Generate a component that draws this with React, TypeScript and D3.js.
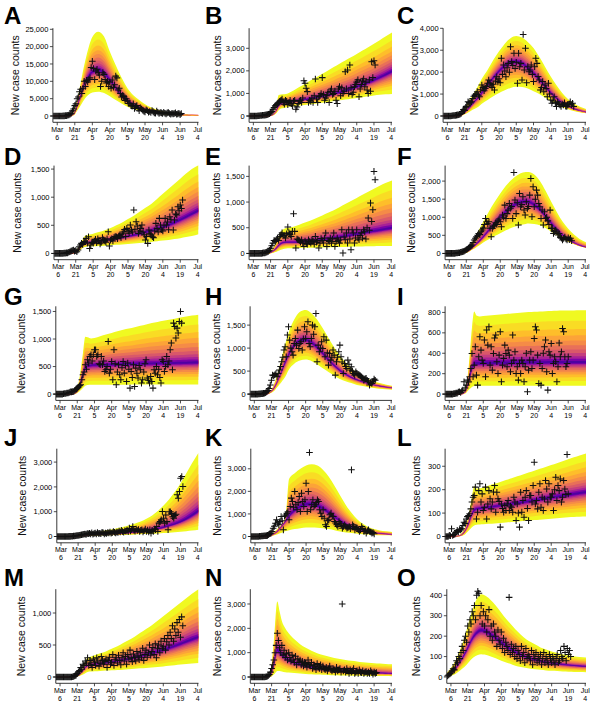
import React from 'react';
import * as d3 from 'd3';

// ---------- shared axis data ----------
const X_TICK_DAYS = [0, 15, 30, 45, 60, 75, 90, 105, 120];
const X_TICK_MONTHS = ['Mar', 'Mar', 'Apr', 'Apr', 'May', 'May', 'Jun', 'Jun', 'Jul'];
const X_TICK_DAYNUMS = ['6', '21', '5', '20', '5', '20', '4', '19', '4'];
const MODEL_DAYS = [-3.7, 4, 10, 14, 17, 20, 22, 24, 27, 30, 35, 40, 45, 50, 55, 60, 65, 70, 75, 80, 85, 90, 95, 100, 105, 110, 115, 120.7];
const POINT_START_DAY = -3;
const PANEL_IDS = ['A', 'B', 'C', 'D', 'E', 'F', 'G', 'H', 'I', 'J', 'K', 'L', 'M', 'N', 'O'];

// ---------- A ----------
const A_HI = [0,0,0,1000,4500,9500,13000,16000,20000,22800,24300,22900,18500,14600,11000,8000,6000,4600,3400,2500,1900,1400,1050,800,600,420,300,220];
const A_MED = [0,0,0,500,2800,6000,8000,9800,11500,12700,13200,12300,10300,8000,6000,4400,3300,2500,1900,1450,1100,850,650,500,380,290,220,170];
const A_LO = [0,0,0,200,1500,3000,4200,5200,6200,6800,7000,6600,5700,4600,3600,2700,2000,1500,1150,880,680,520,400,300,230,170,130,100];
const A_PTS = [0,0,0,
  0,0,0,0,0,50,50,100,100,200,
  300,500,800,1500,2000,3000,3500,5000,5500,7000,
  7700,6500,8000,10000,8500,10300,9800,10500,11000,14000,
  15800,13700,10500,13000,13500,12500,11800,8500,10000,12500,
  12000,10500,9500,10000,8500,9800,8000,10400,8300,9000,
  11500,11000,7500,8000,6500,5500,6000,5600,4500,5000,
  4300,3600,3700,3000,2800,3500,2200,2600,3000,2200,
  1500,2400,2000,1700,1400,1200,1800,1500,1100,1300,
  1000,1600,1200,900,800,1400,1100,700,1000,900,
  700,1100,800,600,900,1000,700,500,800,600,
  700,900,500,600,800,400,700];
const A_TICKS = [0, 5000, 10000, 15000, 20000, 25000];

// ---------- B ----------
const B_HI = [0,0,0,20,100,400,930,950,960,1000,1130,1280,1430,1580,1720,1870,2020,2170,2320,2460,2600,2750,2900,3050,3200,3360,3520,3700];
const B_MED = [0,0,0,10,60,250,450,550,600,620,650,680,720,760,810,860,910,960,1030,1100,1180,1280,1370,1470,1580,1700,1820,1970];
const B_LO = [0,0,0,5,30,120,250,330,360,400,430,460,490,520,555,590,625,660,695,730,765,800,835,870,905,940,960,980];
const B_PTS = [0,0,0,
  0,0,0,0,10,10,20,20,30,30,
  40,50,60,80,100,150,200,300,380,450,
  500,550,600,650,700,750,600,520,700,650,
  500,600,700,550,450,650,700,300,400,550,
  650,700,600,800,1560,1450,1230,1080,600,700,
  650,800,600,900,1640,750,600,850,900,1000,
  1700,950,700,800,900,1050,600,1100,1200,950,
  1000,1100,700,550,1200,1300,900,1250,1000,1100,
  1960,1200,2040,1000,2260,1250,950,1050,1300,1400,
  1500,1600,850,1200,1400,1550,1650,1300,1500,1150,
  1000,1600,1100,2400,1700,2450,2260];
const B_TICKS = [0, 1000, 2000, 3000];

// ---------- C ----------
const C_HI = [0,0,0,250,550,800,950,1120,1400,1700,2100,2550,2950,3300,3550,3650,3580,3380,3100,2700,2250,1800,1400,1050,780,580,430,320];
const C_MED = [0,0,0,100,250,420,550,680,850,1050,1400,1750,2050,2300,2450,2480,2400,2200,1950,1650,1350,1050,800,600,450,330,250,175];
const C_LO = [0,0,0,50,120,220,280,330,420,560,730,900,1050,1180,1280,1330,1320,1250,1130,1000,840,680,530,400,310,230,170,125];
const C_PTS = [0,0,0,
  0,0,0,0,10,20,20,30,40,50,
  60,80,120,200,300,250,400,450,650,600,
  600,650,800,900,960,1000,1110,950,880,1200,
  1410,1300,1150,1260,1350,1490,1640,1500,1410,1300,
  1450,1190,1600,1790,1550,1700,1520,2630,1900,2330,
  2050,1790,2200,2400,2000,3160,2480,2300,2860,2170,
  2450,1490,2860,2250,2400,1640,3720,2100,3090,1520,
  2250,2020,2100,2330,1900,1570,2250,2630,2400,1800,
  1640,1190,1300,1570,1110,1410,1250,880,1490,1000,
  730,580,700,880,600,430,650,550,500,430,
  550,500,600,450,430,500,550,650,500,580,430];
const C_TICKS = [0, 1000, 2000, 3000, 4000];

// ---------- D ----------
const D_HI = [0,0,0,20,100,200,290,320,335,350,380,410,450,500,550,610,670,740,810,880,970,1060,1150,1240,1330,1420,1500,1570];
const D_MED = [0,0,0,10,60,140,170,185,195,200,215,230,245,260,280,300,320,345,370,400,430,460,500,545,595,645,700,760];
const D_LO = [0,0,0,5,30,80,110,120,125,128,133,138,145,152,160,168,176,185,195,205,215,228,240,255,270,290,310,340];
const D_PTS = [0,0,0,
  0,0,0,0,0,5,5,10,10,20,
  30,40,50,60,40,50,30,60,119,150,
  178,160,200,207,267,180,297,89,150,200,
  180,220,250,190,260,230,170,200,280,240,
  220,200,260,385,130,237,260,220,280,300,
  297,260,310,330,280,350,380,427,300,445,
  400,360,504,420,380,771,430,563,486,356,
  400,445,504,380,330,237,300,178,415,350,
  326,297,280,400,534,445,380,623,504,420,
  400,500,623,504,560,420,652,600,771,415,
  593,700,682,830,760,860,800,949];
const D_TICKS = [0, 500, 1000, 1500];

// ---------- E ----------
const E_HI = [0,0,0,30,100,220,330,420,480,500,520,560,600,640,690,740,790,840,900,960,1020,1080,1140,1200,1260,1320,1370,1420];
const E_MED = [0,0,0,10,40,100,150,190,210,215,215,220,230,240,250,265,280,295,310,330,350,370,390,410,430,450,470,490];
const E_LO = [0,0,0,0,10,30,50,70,90,100,102,105,108,110,112,114,117,120,123,126,129,132,135,138,140,142,144,146];
const E_PTS = [0,0,0,
  0,0,0,0,0,0,0,0,5,10,
  10,20,30,40,60,100,150,200,250,230,
  266,300,250,331,364,400,350,350,300,380,
  513,400,364,331,429,773,429,104,280,266,
  250,220,266,200,136,240,200,180,266,230,
  200,266,240,180,331,220,250,104,200,290,
  250,201,300,396,136,250,234,300,200,280,
  396,136,234,300,250,200,266,461,6,320,
  266,396,201,461,280,71,461,396,201,300,
  461,299,266,350,400,300,461,420,280,500,
  688,450,980,620,850,1597,1435];
const E_TICKS = [0, 500, 1000, 1500];

// ---------- F ----------
const F_HI = [0,0,0,60,150,300,400,520,700,880,1160,1420,1660,1870,2040,2160,2240,2250,2180,2000,1730,1430,1140,880,680,520,400,310];
const F_MED = [0,0,0,30,70,140,200,260,350,450,640,820,1000,1160,1290,1380,1430,1420,1340,1200,1020,830,650,500,380,290,220,170];
const F_LO = [0,0,0,10,40,100,130,170,230,300,390,480,560,640,710,760,800,830,810,780,700,600,500,400,320,250,200,160];
const F_PTS = [0,0,0,
  0,0,0,0,0,0,10,10,20,20,
  30,40,50,60,80,100,120,150,180,200,
  230,300,370,420,461,500,553,520,600,650,
  700,800,968,876,820,876,700,461,692,750,
  784,850,800,900,950,876,738,1060,1000,1336,
  968,1100,1198,1383,1250,1300,968,2240,1475,1100,
  1400,784,1659,1290,1350,1567,1200,1060,1429,1244,
  1300,1613,2074,1014,1843,1290,1500,1751,1613,1383,
  1290,968,1200,784,1152,968,1000,900,800,1198,
  692,700,553,600,645,600,507,550,450,420,
  369,415,450,400,369,430,380,420,350];
const F_TICKS = [0, 500, 1000, 1500, 2000];

// ---------- G ----------
const G_HI = [0,0,0,50,300,750,1040,1030,1010,1020,1050,1080,1110,1140,1170,1190,1215,1240,1265,1290,1310,1330,1350,1370,1390,1410,1425,1440];
const G_MED = [0,0,0,30,150,350,470,510,520,525,528,530,533,536,539,542,545,548,550,552,554,556,558,560,562,564,566,568];
const G_LO = [0,0,0,10,50,110,150,165,170,170,170,171,171,172,172,172,173,173,173,174,174,174,175,175,175,175,176,176];
const G_PTS = [0,0,0,
  0,0,0,5,10,10,20,20,30,40,
  40,45,48,70,90,109,130,150,170,260,
  351,400,533,450,623,563,684,714,600,714,
  805,805,684,714,550,533,684,533,600,412,
  442,500,956,381,450,593,260,805,550,170,
  400,533,351,260,480,593,381,520,230,563,
  450,109,412,300,533,139,472,380,291,520,
  442,200,260,400,550,623,291,250,200,321,
  230,109,442,380,502,351,450,300,200,623,
  593,412,500,684,533,600,805,926,442,1289,
  1229,1017,1198,1108,1319,1500,1289];
const G_TICKS = [0, 500, 1000, 1500];

// ---------- H ----------
const H_HI = [0,0,0,60,200,420,600,800,1080,1330,1620,1790,1830,1760,1620,1430,1220,1020,840,690,570,470,390,330,280,240,210,180];
const H_MED = [0,0,0,40,120,260,380,500,680,850,1060,1160,1180,1120,1010,880,740,620,510,430,360,310,265,230,200,175,155,135];
const H_LO = [0,0,0,20,60,150,210,270,370,520,660,730,750,720,650,560,480,400,330,280,240,200,175,150,130,115,105,95];
const H_PTS = [0,0,0,
  0,0,0,0,5,5,10,10,15,20,
  30,50,80,120,196,300,413,400,420,449,
  377,450,522,600,703,800,957,1029,812,1283,
  1464,1174,1000,920,848,1100,1210,1065,1391,993,
  1100,1138,957,1200,1464,1210,1355,1572,1100,1029,
  1210,1500,1300,1464,1754,703,1065,920,1000,1138,
  993,1246,812,1174,900,630,884,739,800,957,
  848,413,703,800,920,1065,812,700,449,666,
  600,558,739,650,522,594,500,449,413,486,
  450,420,413,400,377,350,304,330,341,300,
  268,196,250,232,280,326,300];
const H_TICKS = [0, 500, 1000, 1500];

// ---------- I ----------
const I_HI = [0,0,0,50,250,650,810,770,760,765,770,775,780,785,790,795,800,803,806,809,812,814,816,818,819,820,821,822];
const I_MED = [0,0,0,20,120,250,290,300,300,301,302,302,303,304,304,305,305,306,306,307,307,308,308,309,309,310,310,310];
const I_LO = [0,0,0,5,40,70,80,81,81,81,81,81,81,81,82,82,82,82,82,82,82,82,82,82,82,82,82,82];
const I_PTS = [0,0,0,
  0,0,0,0,5,5,10,10,20,23,
  15,30,39,121,60,88,137,120,170,251,
  398,170,284,463,186,88,365,561,431,333,
  300,529,170,627,480,659,284,463,235,398,
  550,578,317,202,382,610,121,284,350,480,
  398,268,431,382,219,300,578,333,414,202,
  268,137,300,202,333,300,121,268,400,23,
  235,333,414,251,333,545,659,627,382,104,
  300,88,251,400,463,529,219,39,414,382,
  496,202,300,365,317,121,268,500,365,414,
  643,610,365,268,300,365];
const I_TICKS = [0, 200, 400, 600, 800];

// ---------- J ----------
const J_HI = [0,0,0,10,40,80,100,120,140,160,200,250,290,340,390,450,520,600,720,850,1030,1250,1500,1800,2150,2550,2950,3380];
const J_MED = [0,0,0,5,20,40,50,60,70,80,90,100,110,120,135,150,170,200,230,270,310,360,430,500,590,700,840,1020];
const J_LO = [0,0,0,2,10,20,25,30,35,40,45,50,55,60,65,70,80,90,100,110,125,140,155,170,190,215,240,275];
const J_PTS = [0,0,0,
  0,0,0,0,0,0,0,5,5,10,
  10,20,20,30,40,40,50,60,70,80,
  90,100,80,120,110,130,100,150,90,120,
  140,100,160,120,130,110,170,150,100,140,
  120,160,140,180,130,150,200,170,140,180,
  160,220,180,250,200,170,230,210,260,190,
  336,220,280,400,250,210,300,240,280,200,
  250,270,180,230,300,200,260,180,270,134,
  250,200,300,270,400,200,540,600,670,1008,
  740,540,870,600,270,1000,1000,940,800,740,
  850,900,1680,1545,1815,2350,2420,2016];
const J_TICKS = [0, 1000, 2000, 3000];

// ---------- K ----------
const K_HI = [0,0,0,50,200,350,450,550,900,2550,2800,3000,3150,3200,3150,2950,2650,2250,1820,1400,1050,760,560,420,330,270,230,200];
const K_MED = [0,0,0,40,120,250,370,500,700,900,1150,1320,1420,1430,1360,1220,1040,860,680,530,410,320,250,200,160,130,110,90];
const K_LO = [0,0,0,20,50,100,140,180,240,280,330,370,395,400,390,370,330,280,220,180,150,120,100,85,70,60,55,50];
const K_PTS = [0,0,0,
  0,0,0,0,10,10,20,20,30,30,
  40,50,80,120,150,221,369,450,590,738,
  600,517,665,886,700,295,900,950,1034,1100,
  738,1329,1700,1551,1300,1994,1403,1182,1500,1773,
  1108,1920,1551,1329,1625,2363,1108,1994,3722,1182,
  1403,1625,1329,1403,1500,1625,1551,1182,1034,886,
  1182,812,517,443,700,738,960,1034,900,886,
  665,600,517,443,665,590,500,369,450,517,
  443,369,400,443,350,2954,517,450,295,400,
  369,300,221,295,443,350,221,300,148,250,
  295,221,200,148,180,118];
const K_TICKS = [0, 1000, 2000, 3000];

// ---------- L ----------
const L_HI = [0,0,10,40,90,170,215,205,205,210,218,225,233,241,249,257,265,273,281,289,297,305,313,321,330,338,346,355];
const L_MED = [0,0,5,25,55,95,112,118,120,122,125,128,132,135,139,143,146,150,154,158,162,166,170,174,177,181,185,189];
const L_LO = [0,0,2,10,25,40,47,50,51,52,54,56,58,60,62,64,66,68,70,72,74,76,78,80,82,83,84,85];
const L_PTS = [0,0,0,
  5,3,33,4,8,11,18,26,20,30,
  28,33,47,61,55,75,85,90,97,118,
  147,168,175,211,75,104,196,225,147,182,
  111,125,211,75,139,196,161,118,147,190,
  218,104,189,161,150,40,139,120,104,132,
  111,139,154,111,130,125,104,168,147,68,
  139,100,40,189,104,154,82,168,196,120,
  68,175,175,147,218,317,139,154,118,189,
  225,125,168,111,160,239,203,147,225,168,
  168,182,111,200,253,154,218,196,246,147,
  168,239,203,180,350,182];
const L_TICKS = [0, 100, 200, 300];

// ---------- M ----------
const M_HI = [0,0,0,20,80,150,250,300,320,340,370,400,440,480,530,580,630,690,750,810,880,950,1020,1090,1160,1230,1300,1370];
const M_MED = [0,0,0,10,40,100,150,180,190,200,210,220,235,250,265,280,300,320,345,370,395,420,450,480,515,550,585,620];
const M_LO = [0,0,0,5,20,40,60,80,85,90,95,100,105,110,115,120,127,135,142,150,157,165,175,185,195,205,212,220];
const M_PTS = [0,0,0,
  0,0,0,0,0,0,0,0,0,0,
  0,5,10,20,30,50,80,100,150,120,
  200,180,250,220,300,180,260,200,150,280,
  230,180,300,250,170,220,320,260,200,240,
  280,150,260,310,200,230,350,180,270,300,
  220,340,260,190,300,380,250,320,200,350,
  280,420,300,240,360,310,250,400,330,270,
  380,300,450,260,350,420,310,380,500,340,
  400,460,350,520,300,440,500,380,560,450,
  480,600,420,550,650,500,700,600,800,560,
  750,650,850,700,900,620,940,800];
const M_TICKS = [0, 500, 1000];

// ---------- N ----------
const N_HI = [0,0,0,200,1500,3100,2700,2300,2000,1800,1550,1350,1200,1080,980,900,840,780,740,700,670,640,610,590,570,550,535,520];
const N_MED = [0,0,0,50,500,1100,1000,900,780,680,580,510,450,400,360,330,300,275,255,235,220,205,190,180,170,160,150,140];
const N_LO = [0,0,0,10,100,250,250,230,200,180,160,140,125,110,100,90,80,70,65,60,55,50,47,45,42,40,37,35];
const N_PTS = [0,0,0,
  0,0,0,0,0,0,0,0,0,0,
  10,20,50,100,200,350,500,700,1000,1300,
  1800,1500,1200,1000,1300,900,1100,800,950,700,
  1000,800,650,900,700,600,850,500,750,600,
  700,500,650,450,600,550,400,700,500,450,
  600,350,500,450,300,550,400,350,500,300,
  450,350,300,400,250,350,450,300,250,350,
  300,200,400,250,300,350,200,3000,250,300,
  200,350,250,150,300,200,250,350,150,200,
  250,150,300,200,180,250,150,200,220,150,
  200,150,250,180,120,200,150,180];
const N_TICKS = [0, 1000, 2000, 3000];

// ---------- O ----------
const O_HI = [20,80,160,230,290,340,370,390,405,400,380,350,315,280,250,220,195,175,160,145,135,125,118,112,106,102,98,95];
const O_MED = [10,40,90,130,165,195,210,220,228,225,210,190,168,148,130,115,102,92,84,78,72,68,64,61,58,56,54,52];
const O_LO = [3,15,40,60,80,95,103,108,112,110,102,92,80,70,60,52,47,42,38,35,32,30,29,27,26,25,24,23];
const O_PTS = [5,10,15,
  20,30,40,35,60,80,70,100,90,120,
  150,130,180,200,170,250,220,280,260,320,
  300,350,280,400,420,410,300,350,260,320,
  250,300,220,280,330,200,250,180,260,220,
  200,150,230,180,160,220,140,190,120,170,
  150,130,390,110,160,120,140,100,150,90,
  130,110,80,150,100,120,70,140,90,110,
  100,80,130,60,110,90,120,70,100,80,
  110,60,90,120,70,100,80,60,110,90,
  70,100,80,60,90,110,70,80,130,100,
  90,150,120,80,140,110,130,100];
const O_TICKS = [0, 100, 200, 300, 400];

// y-axis upper limits (value at the top of each plot)
const Y_TOPS = [25317, 3890, 4005, 1562, 1710, 2429, 1594, 1909, 860, 3540, 3890, 375, 1372, 3608, 430];

const SERIES = [
  [A_LO, A_MED, A_HI, A_PTS, A_TICKS],
  [B_LO, B_MED, B_HI, B_PTS, B_TICKS],
  [C_LO, C_MED, C_HI, C_PTS, C_TICKS],
  [D_LO, D_MED, D_HI, D_PTS, D_TICKS],
  [E_LO, E_MED, E_HI, E_PTS, E_TICKS],
  [F_LO, F_MED, F_HI, F_PTS, F_TICKS],
  [G_LO, G_MED, G_HI, G_PTS, G_TICKS],
  [H_LO, H_MED, H_HI, H_PTS, H_TICKS],
  [I_LO, I_MED, I_HI, I_PTS, I_TICKS],
  [J_LO, J_MED, J_HI, J_PTS, J_TICKS],
  [K_LO, K_MED, K_HI, K_PTS, K_TICKS],
  [L_LO, L_MED, L_HI, L_PTS, L_TICKS],
  [M_LO, M_MED, M_HI, M_PTS, M_TICKS],
  [N_LO, N_MED, N_HI, N_PTS, N_TICKS],
  [O_LO, O_MED, O_HI, O_PTS, O_TICKS],
];

// ---------- layout / style ----------
const ROW_ZERO_Y = [116, 253.4, 394.1, 536.5, 677];
const COL_RIGHT = [198.5, 392, 586];
const PANEL_LEFT = [52.9, 249.1, 443.1, 54, 249.1, 445.1, 55.8, 250.1, 445.1, 56.8, 250.8, 445.1, 55.8, 250.3, 446.8];
const LABEL_X = [15, 217.5, 414, 17.5, 216, 411, 21, 216, 414, 22.5, 217, 416, 21, 217, 416];
const LETTER_X = [4, 205, 397];
const ABOVE_ZERO = 87.8;
const BELOW_ZERO = 6.3;
const BAND_LEVELS = [1, 0.8, 0.64, 0.52, 0.42, 0.33, 0.25, 0.18, 0.12, 0.07, 0.03];
const BAND_T = [1.0, 0.93, 0.86, 0.79, 0.72, 0.64, 0.56, 0.47, 0.37, 0.24, 0.13];
const FONT = 'Liberation Sans, Arial, sans-serif';
const TICK_FONT = 7;

function Panel({ idx }: { idx: number }) {
  const [lo, med, hi, pts, ticks] = SERIES[idx];
  const row = Math.floor(idx / 3);
  const col = idx % 3;
  const zeroY = ROW_ZERO_Y[row];
  const top = zeroY - ABOVE_ZERO;
  const bottom = zeroY + BELOW_ZERO;
  const left = PANEL_LEFT[idx];
  const right = COL_RIGHT[col];
  const yTop = Y_TOPS[idx];
  const x = d3.scaleLinear().domain([-3.7, 120.7]).range([left, right]);
  const y = d3.scaleLinear().domain([-yTop * BELOW_ZERO / ABOVE_ZERO, yTop]).range([bottom, top]);
  const clipId = `clip-${idx}`;

  const bands = BAND_LEVELS.map((f, i) => {
    const area = d3
      .area<number>()
      .x((_, j) => x(MODEL_DAYS[j]))
      .y0((_, j) => y(med[j] + f * (lo[j] - med[j])))
      .y1((_, j) => y(med[j] + f * (hi[j] - med[j])))
      .curve(d3.curveMonotoneX);
    return <path key={i} d={area(med) || ''} fill={d3.interpolatePlasma(BAND_T[i])} />;
  });

  const medLine = d3
    .line<number>()
    .x((_, j) => x(MODEL_DAYS[j]))
    .y((v) => y(v))
    .curve(d3.curveMonotoneX)(med) || '';

  const s = 3.3;
  const plus = pts
    .map((v, i) => {
      const cx = x(POINT_START_DAY + i);
      const cy = y(v);
      return `M${(cx - s).toFixed(2)},${cy.toFixed(2)}h${2 * s}M${cx.toFixed(2)},${(cy - s).toFixed(2)}v${2 * s}`;
    })
    .join('');

  const fmt = d3.format(',');

  return (
    <g>
      <defs>
        <clipPath id={clipId}>
          <rect x={left} y={top - 2} width={right - left} height={bottom - top + 2} />
        </clipPath>
      </defs>
      <g clipPath={`url(#${clipId})`}>
        <path d={medLine} fill="none" stroke="#e3242b" strokeWidth={1.4} />
        {bands}
      </g>
      <path d={plus} fill="none" stroke="#111" strokeWidth={1.05} />
      {/* y axis */}
      <line x1={left} x2={left} y1={top} y2={bottom} stroke="#222" strokeWidth={0.9} />
      {ticks.map((t) => (
        <g key={t}>
          <line x1={left - 3} x2={left} y1={y(t)} y2={y(t)} stroke="#222" strokeWidth={0.8} />
          <text x={left - 4.5} y={y(t)} dy="0.35em" textAnchor="end" fontSize={7.5} fontFamily={FONT} fill="#000">
            {fmt(t)}
          </text>
        </g>
      ))}
      {/* x axis */}
      <line x1={left} x2={right} y1={bottom} y2={bottom} stroke="#222" strokeWidth={0.9} />
      {X_TICK_DAYS.map((d, i) => (
        <g key={d}>
          <line x1={x(d)} x2={x(d)} y1={bottom} y2={bottom + 3} stroke="#222" strokeWidth={0.8} />
          <text x={x(d)} y={bottom + 9.2} textAnchor="middle" fontSize={TICK_FONT} fontFamily={FONT} fill="#000">
            {X_TICK_MONTHS[i]}
          </text>
          <text x={x(d)} y={bottom + 17.4} textAnchor="middle" fontSize={TICK_FONT} fontFamily={FONT} fill="#000">
            {X_TICK_DAYNUMS[i]}
          </text>
        </g>
      ))}
      <text
        transform={`translate(${LABEL_X[idx]},${(top + bottom) / 2}) rotate(-90)`}
        textAnchor="middle"
        dy="0.35em"
        fontSize={10.5}
        fontFamily={FONT}
        fill="#111"
      >
        New case counts
      </text>
      <text x={LETTER_X[col]} y={24 + 140.5 * row} fontSize={24} fontWeight="bold" fontFamily={FONT} fill="#000">
        {PANEL_IDS[idx]}
      </text>
    </g>
  );
}

export default function App() {
  return (
    <svg
      width={600}
      height={716}
      viewBox="0 0 600 716"
      style={{ position: 'absolute', left: 0, top: 0, display: 'block', background: '#fff' }}
    >
      <rect x={0} y={0} width={600} height={716} fill="#fff" />
      {PANEL_IDS.map((_, i) => (
        <Panel key={i} idx={i} />
      ))}
    </svg>
  );
}
